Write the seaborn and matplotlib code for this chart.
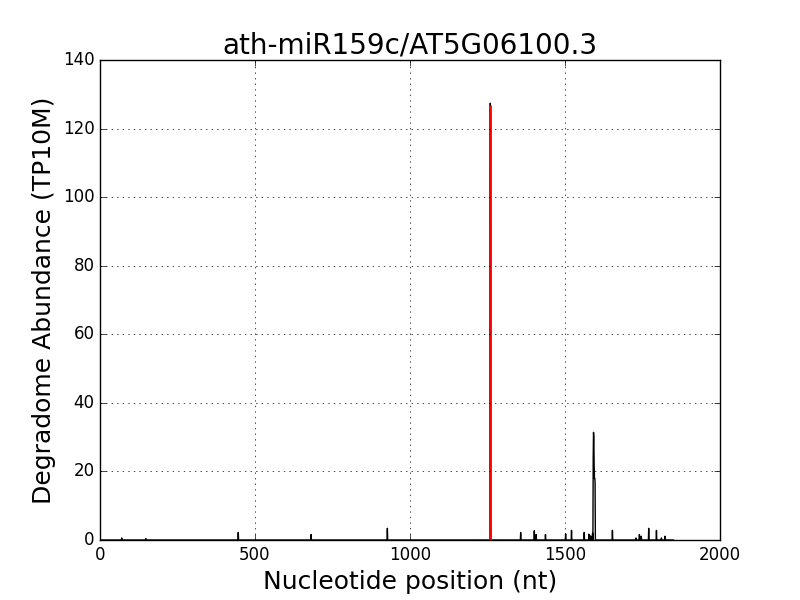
import numpy as np
import pandas as pd
import matplotlib
matplotlib.use("Agg")
import matplotlib.pyplot as plt
import seaborn as sns

# Degradome peaks (position in nt, abundance TP10M)
positions = [70, 148, 446, 681, 927, 1357, 1401, 1407, 1437, 1502, 1521,
             1562, 1577, 1583, 1589, 1591, 1592, 1593, 1594, 1595, 1596,
             1597, 1653, 1729, 1740, 1746, 1770, 1795, 1811, 1823]
abundance = [0.6, 0.4, 2.2, 1.6, 3.4, 2.2, 2.7, 1.6, 1.6, 1.8, 2.8,
             2.2, 1.7, 1.2, 2.0, 24.0, 31.4, 30.0, 22.0, 18.0, 18.0,
             17.0, 2.8, 0.6, 1.6, 1.1, 3.4, 2.8, 0.6, 1.1]
transcript_len = 1850

# cleavage site of the miRNA target
target_pos = 1259
target_abund = 127.4

title = "ath-miR159c/AT5G06100.3"

# full profile with zeros where there are no reads
profile = pd.Series(abundance, index=positions)
profile = profile.reindex(range(0, transcript_len + 1), fill_value=0.0)
profile.loc[target_pos] = target_abund
df = pd.DataFrame({"pos": profile.index, "abund": profile.values})

plt.style.use("classic")
fig, ax = plt.subplots(figsize=(8, 6), dpi=100)

sns.lineplot(data=df, x="pos", y="abund", color="black", linewidth=1, ax=ax)
ax.vlines(target_pos, 0, target_abund - 0.4, color="red", linewidth=2)

ax.set_xlim(0, 2000)
ax.set_ylim(0, 140)
ax.set_xticks([0, 500, 1000, 1500, 2000])
ax.set_yticks(range(0, 141, 20))
ax.grid(True)
ax.tick_params(labelsize=12)

ax.set_title(title, fontsize=20)
ax.set_xlabel("Nucleotide position (nt)", fontsize=18)
ax.set_ylabel("Degradome Abundance (TP10M)", fontsize=18)

fig.subplots_adjust(left=0.125, right=0.9, bottom=0.1, top=0.9)
fig.savefig("out.png", dpi=100, facecolor="white")
